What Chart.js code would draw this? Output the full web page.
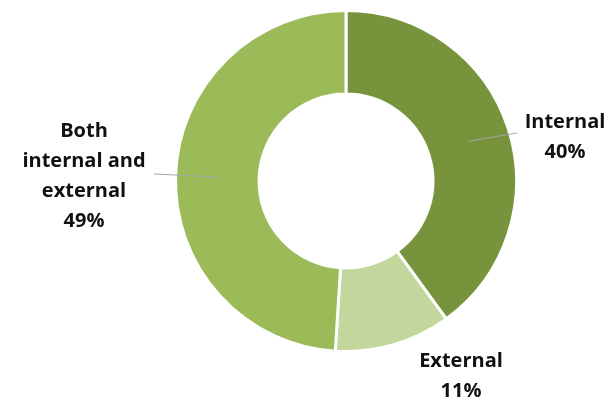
<!DOCTYPE html>
<html>
<head>
<meta charset="utf-8">
<script src="https://cdn.jsdelivr.net/npm/chart.js@4"></script>
<style>
    html, body { margin: 0; padding: 0; background: #fff; }
    #wrap { width: 609px; height: 400px; }
</style>
</head>
<body>
<div id="wrap"><canvas id="ring"></canvas></div>
<script>
const categories = ["Internal", "External", "Both\ninternal and\nexternal"];
const shares = [40, 11, 49];
const sliceColors = ["#77933C", "#C3D69B", "#9BBB59"];

// where each label sits, measured from the ring centre
const labelPlaces = [
    { dx: 219, dy: -53, lineTo: [171, -48] },
    { dx: 115, dy: 186, lineTo: null },
    { dx: -262, dy: -44, lineTo: [-192, -7] },
];

const sliceLabels = {
    id: "sliceLabels",
    afterDatasetsDraw(chart) {
        const ctx = chart.ctx;
        const arcs = chart.getDatasetMeta(0).data;
        arcs.forEach((arc, i) => {
            const { x, y, startAngle, endAngle, innerRadius, outerRadius } =
                arc.getProps(["x", "y", "startAngle", "endAngle", "innerRadius", "outerRadius"], true);
            const mid = (startAngle + endAngle) / 2;
            const r = (innerRadius + outerRadius) / 2;
            const place = labelPlaces[i];

            ctx.save();
            if (place.lineTo) {
                ctx.strokeStyle = "#A6A6A6";
                ctx.lineWidth = 1;
                ctx.beginPath();
                ctx.moveTo(x + Math.cos(mid) * r, y + Math.sin(mid) * r);
                ctx.lineTo(x + place.lineTo[0], y + place.lineTo[1]);
                ctx.stroke();
            }
            const lines = categories[i].split("\n").concat(shares[i] + "%");
            ctx.fillStyle = "#111111";
            ctx.font = "bold 20px 'Open Sans'";
            ctx.textAlign = "center";
            ctx.textBaseline = "alphabetic";
            lines.forEach((t, k) => {
                ctx.fillText(t, x + place.dx, y + place.dy + k * 30);
            });
            ctx.restore();
        });
    }
};

new Chart(document.getElementById("ring"), {
    type: "doughnut",
    data: {
        labels: categories,
        datasets: [
            {
                data: shares,
                backgroundColor: sliceColors,
                borderColor: "#ffffff",
                borderWidth: 3,
            },
        ],
    },
    options: {
        responsive: true,
        maintainAspectRatio: false,
        animation: false,
        cutout: "51%",
        layout: { padding: { left: 174, right: 91, top: 9, bottom: 47 } },
        plugins: {
            legend: { display: false },
            tooltip: { enabled: false },
        },
    },
    plugins: [sliceLabels],
});
</script>
</body>
</html>
